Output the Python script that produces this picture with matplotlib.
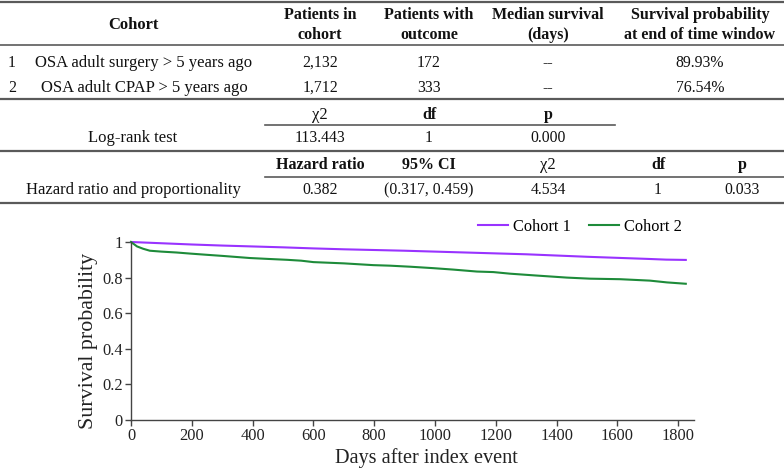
import matplotlib
matplotlib.use("Agg")
import matplotlib.pyplot as plt
from matplotlib.lines import Line2D

plt.rcParams['font.family'] = ['Liberation Serif', 'DejaVu Serif']

# ---------------- table data ----------------
header_cols = ["Cohort", "Patients in\ncohort", "Patients with\noutcome",
               "Median survival\n(days)", "Survival probability\nat end of time window"]
cohort_ids = ["1", "2"]
cohort_names = ["OSA adult surgery > 5 years ago", "OSA adult CPAP > 5 years ago"]
patients_in = ["2,132", "1,712"]
patients_outcome = ["172", "333"]
median_surv = ["--", "--"]
surv_prob_end = ["89.93%", "76.54%"]

logrank_label = "Log-rank test"
logrank_head = ["χ2", "df", "p"]
logrank_vals = ["113.443", "1", "0.000"]

hr_label = "Hazard ratio and proportionality"
hr_head = ["Hazard ratio", "95% CI", "χ2", "df", "p"]
hr_vals = ["0.382", "(0.317, 0.459)", "4.534", "1", "0.033"]

# ---------------- curve data ----------------
days1 = [0, 100, 200, 300, 400, 500, 600, 700, 800, 900, 1000, 1100, 1200,
         1300, 1400, 1500, 1600, 1700, 1760, 1825]
surv1 = [1.0, 0.993, 0.986, 0.980, 0.975, 0.970, 0.964, 0.959, 0.955, 0.951,
         0.946, 0.941, 0.936, 0.931, 0.924, 0.917, 0.911, 0.905, 0.901, 0.8993]

days2 = [0, 20, 40, 62, 100, 150, 194, 250, 300, 391, 450, 513, 560, 600, 700,
         797, 852, 920, 995, 1060, 1138, 1192, 1247, 1330, 1434, 1510, 1609,
         1707, 1763, 1825]
surv2 = [1.0, 0.975, 0.962, 0.951, 0.946, 0.941, 0.935, 0.928, 0.922, 0.910,
         0.905, 0.900, 0.895, 0.887, 0.880, 0.870, 0.867, 0.861, 0.853, 0.845,
         0.834, 0.831, 0.822, 0.812, 0.800, 0.794, 0.791, 0.783, 0.773, 0.7654]

series_labels = ["Cohort 1", "Cohort 2"]
series_colors = ["#9933FF", "#1E8B3A"]

W, H = 784, 471
fig = plt.figure(figsize=(W / 100, H / 100), dpi=100)


def fx(x):
    return x / W


def fy(y):
    return 1 - y / H


def txt(x, y, s, bold=False, size=None, ha='center'):
    if size is None:
        if bold:
            size = 11.5
        elif any(ch.isalpha() for ch in s):
            size = 12
        else:
            size = 11.3
    fig.text(fx(x), fy(y), s, ha=ha, va='center', fontsize=size,
             fontweight='bold' if bold else 'normal', color='#111111',
             linespacing=1.4)


def hline(x0, x1, y, lw=1.2, color='#5a5a5a'):
    fig.add_artist(Line2D([fx(x0), fx(x1)], [fy(y), fy(y)], lw=lw, color=color,
                          transform=fig.transFigure))


col_x = [133, 320, 429, 548, 700]
col_x_hr = [320, 429, 548, 658, 742]

# header
txt(col_x[0], 25, header_cols[0], bold=True, size=12)
for cx, h in zip(col_x[1:], header_cols[1:]):
    txt(cx, 25, h, bold=True)

row_y = [63, 88]
for i in range(2):
    txt(12, row_y[i], cohort_ids[i])
    txt(144, row_y[i], cohort_names[i])
    txt(col_x[1], row_y[i], patients_in[i])
    txt(col_x[2], row_y[i], patients_outcome[i])
    txt(col_x[3], row_y[i], median_surv[i])
    txt(col_x[4], row_y[i], surv_prob_end[i])

for cx, h in zip(col_x[1:4], logrank_head):
    txt(cx, 115, h, bold=(h != "χ2"), size=(12 if h == "χ2" else None))
txt(col_x[0], 138, logrank_label)
for cx, v in zip(col_x[1:4], logrank_vals):
    txt(cx, 138, v)

for cx, h in zip(col_x_hr, hr_head):
    txt(cx, 165, h, bold=(h != "χ2"), size=(12 if h == "χ2" else None))
txt(col_x[0], 190, hr_label)
for cx, v in zip(col_x_hr, hr_vals):
    txt(cx, 190, v)

hline(0, W, 2, lw=1.6)
hline(0, W, 45)
hline(0, W, 99, lw=1.6)
hline(265, 615, 125)
hline(0, W, 151, lw=1.6)
hline(265, W, 177)
hline(0, W, 203, lw=1.6)

# ---------------- chart ----------------
ax = fig.add_axes([fx(131), fy(420), fx(694) - fx(131), fy(242) - fy(420)])
for d, s, lab, c in zip([days1, days2], [surv1, surv2], series_labels, series_colors):
    ax.plot(d, s, color=c, lw=1.5, label=lab, clip_on=False)

ax.set_xlim(0, 1852)
ax.set_ylim(0, 1)
ax.set_xticks([0, 200, 400, 600, 800, 1000, 1200, 1400, 1600, 1800])
ax.set_yticks([0, 0.2, 0.4, 0.6, 0.8, 1])
ax.set_yticklabels(["0", "0.2", "0.4", "0.6", "0.8", "1"])
for sp in ['top', 'right']:
    ax.spines[sp].set_visible(False)
for sp in ['left', 'bottom']:
    ax.spines[sp].set_color('#444444')
    ax.spines[sp].set_linewidth(1.0)
ax.tick_params(axis='both', direction='out', length=4, width=1.0,
               color='#444444', labelsize=11.8, labelcolor='#222222', pad=2)
ax.set_ylabel("Survival probability", fontsize=15.8, color='#222222', labelpad=3)
ax.set_xlabel("Days after index event", fontsize=14.6, color='#222222', labelpad=3)
ax.yaxis.label.set_y(0.445)
ax.xaxis.label.set_x(0.524)

fig.legend(loc='center', bbox_to_anchor=(fx(580), fy(227)), ncol=2, frameon=False,
           fontsize=11.8, handlelength=1.85, handletextpad=0.3, columnspacing=1.1,
           borderpad=0, borderaxespad=0)

fig.savefig("out.png", dpi=100)
